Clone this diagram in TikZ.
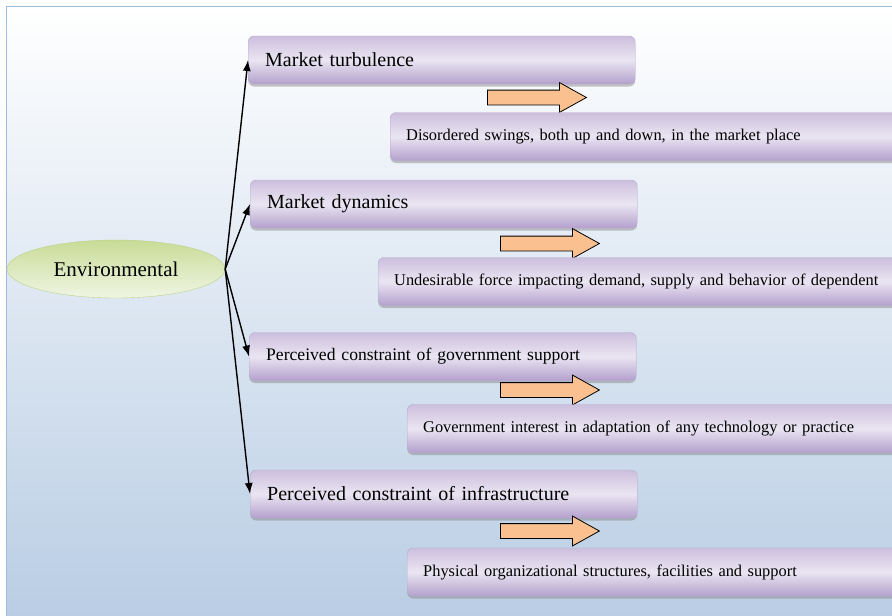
\documentclass[tikz,border=0pt]{standalone}
\usepackage{fontspec}
\setmainfont{Liberation Serif}
\usetikzlibrary{shapes.geometric,shapes.arrows,shadows,arrows.meta}

\definecolor{framebl}{RGB}{160,188,220}
\definecolor{bgbot}{RGB}{185,205,228}
\definecolor{lilacdk}{RGB}{180,160,205}
\definecolor{lilaclt}{RGB}{234,229,242}
\definecolor{lilacln}{RGB}{185,170,210}
\definecolor{greendk}{RGB}{200,220,150}
\definecolor{greenlt}{RGB}{240,245,228}
\definecolor{greenln}{RGB}{188,210,135}
\definecolor{peach}{RGB}{250,192,144}

\tikzset{
  topic/.style={rounded corners=6pt, draw=lilacln, top color=lilacdk!55!lilaclt,
    bottom color=lilacdk, middle color=lilaclt,
    drop shadow={shadow xshift=0pt, shadow yshift=-2.5pt, opacity=0.45},
    anchor=west, minimum height=48pt, inner xsep=17pt, text width=353pt, align=left,
    font=\fontsize{20}{24}\selectfont},
  detail/.style={topic, inner xsep=16pt, text width=488pt, font=\fontsize{16.4}{19}\selectfont},
  hint/.style={single arrow, draw=black, line width=0.8pt, fill=peach, anchor=tail,
    inner xsep=0pt, inner ysep=7pt, minimum height=99pt, minimum width=29pt,
    single arrow head extend=7.5pt, single arrow tip angle=58},
  link/.style={-{Latex[length=11pt,width=8pt]}, line width=1.4pt}
}

\begin{document}
\begin{tikzpicture}[x=1pt,y=-1pt]
  \clip (0,0) rectangle (892,616);
  \fill[white] (0,0) rectangle (892,616);
  \fill[top color=white, bottom color=bgbot] (6.5,6.5) rectangle (892,616);
  \draw[framebl, line width=1.5pt] (6.5,616) -- (6.5,6.5) -- (892,6.5);

  \node[ellipse, draw=greenln, top color=greendk, bottom color=greenlt, inner sep=0pt,
    minimum width=218pt, minimum height=58pt, font=\fontsize{21}{25}\selectfont]
    (env) at (116,269) {Environmental};

  \node[topic] (t1) at (248,60) {Market turbulence};
  \node[topic] (t2) at (250,204) {Market dynamics};
  \node[topic, font=\fontsize{17.6}{21}\selectfont] (t3) at (249,356.5) {Perceived constraint of government support};
  \node[topic] (t4) at (250,494) {Perceived constraint of infrastructure};

  \node[hint] (a1) at (487,97.5) {};
  \node[hint] (a2) at (500,243.5) {};
  \node[hint] (a3) at (500,390) {};
  \node[hint] (a4) at (500,531) {};

  \node[detail] (d1) at (390,136.5) {Disordered swings, both up and down, in the market place};
  \node[detail] (d2) at (378,281.5) {Undesirable force impacting demand, supply and behavior of dependent};
  \node[detail] (d3) at (407,428.5) {Government interest in adaptation of any technology or practice};
  \node[detail] (d4) at (407,572) {Physical organizational structures, facilities and support};

  \path[link]
  (env.east) edge (t1.west)
  edge (t2.west)
  edge (t3.west)
  edge (t4.west);
\end{tikzpicture}
\end{document}
